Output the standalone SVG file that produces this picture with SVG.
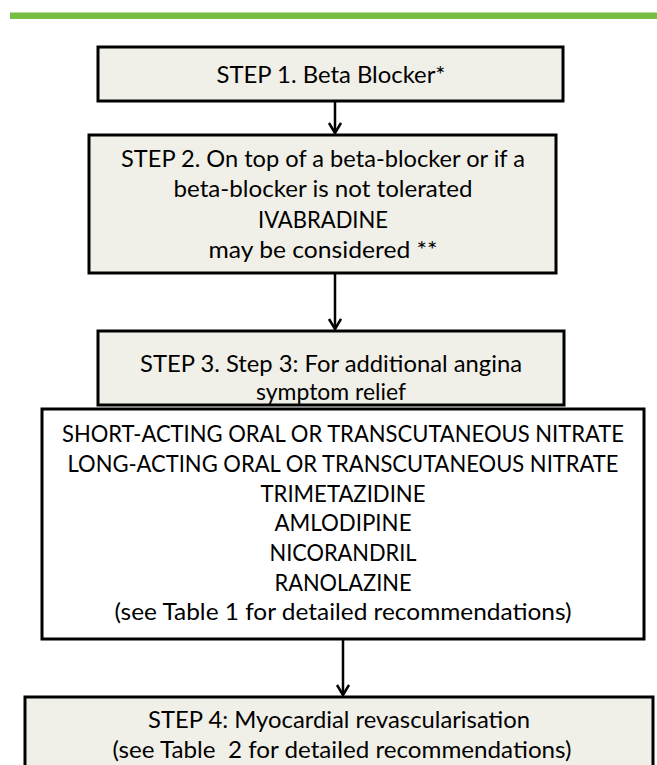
<svg xmlns="http://www.w3.org/2000/svg" width="657" height="765" viewBox="0 0 657 765">
<style>
.box{fill:#F1F0E8;stroke:#000;stroke-width:3}
.wbox{fill:#FFFFFF;stroke:#000;stroke-width:3}
.t{font-family:Lato,"Liberation Sans",sans-serif;font-size:23.5px;fill:#000;text-anchor:middle}
.c{stroke:#000;stroke-width:2.5;fill:none}
</style>
<defs>
<marker id="arr" markerUnits="userSpaceOnUse" markerWidth="16" markerHeight="16" refX="11" refY="6.5" orient="auto">
<path d="M1,0.5 L11,6.5 L1,12.5" fill="none" stroke="#000" stroke-width="2.5"/>
</marker>
</defs>
<rect x="10" y="12.5" width="647" height="6.5" fill="#78BE45"/>
<g id="step1">
<rect class="box" x="98" y="47" width="465" height="54"/>
<text class="t" x="331" y="82.5" textLength="229" lengthAdjust="spacingAndGlyphs">STEP 1. Beta Blocker*</text>
</g>
<g id="step2">
<rect class="box" x="89" y="135" width="467" height="138"/>
<text class="t" x="323" y="167" textLength="404" lengthAdjust="spacingAndGlyphs">STEP 2. On top of a beta-blocker or if a</text>
<text class="t" x="323" y="197" textLength="299" lengthAdjust="spacingAndGlyphs">beta-blocker is not tolerated</text>
<text class="t" x="323" y="228" textLength="130" lengthAdjust="spacingAndGlyphs">IVABRADINE</text>
<text class="t" x="323" y="258" textLength="229" lengthAdjust="spacingAndGlyphs">may be considered **</text>
</g>
<g id="step3">
<rect class="box" x="98" y="331" width="466" height="74"/>
<text class="t" x="331" y="372" textLength="382" lengthAdjust="spacingAndGlyphs">STEP 3. Step 3: For additional angina</text>
<text class="t" x="331" y="400" textLength="150" lengthAdjust="spacingAndGlyphs">symptom relief</text>
</g>
<g id="drugs">
<rect class="wbox" x="42" y="409" width="602" height="230"/>
<text class="t" x="343" y="442" textLength="562" lengthAdjust="spacingAndGlyphs">SHORT-ACTING ORAL OR TRANSCUTANEOUS NITRATE</text>
<text class="t" x="343" y="472" textLength="551" lengthAdjust="spacingAndGlyphs">LONG-ACTING ORAL OR TRANSCUTANEOUS NITRATE</text>
<text class="t" x="343" y="501.5" textLength="165" lengthAdjust="spacingAndGlyphs">TRIMETAZIDINE</text>
<text class="t" x="343" y="531" textLength="137" lengthAdjust="spacingAndGlyphs">AMLODIPINE</text>
<text class="t" x="343" y="561" textLength="147" lengthAdjust="spacingAndGlyphs">NICORANDRIL</text>
<text class="t" x="343" y="590.5" textLength="137" lengthAdjust="spacingAndGlyphs">RANOLAZINE</text>
<text class="t" x="343" y="620" textLength="457" lengthAdjust="spacingAndGlyphs">(see Table 1 for detailed recommendations)</text>
</g>
<g id="step4">
<rect class="box" x="25" y="697" width="628" height="90"/>
<text class="t" x="339" y="728" textLength="382" lengthAdjust="spacingAndGlyphs">STEP 4: Myocardial revascularisation</text>
<text class="t" x="342" y="758" textLength="459" lengthAdjust="spacingAndGlyphs" xml:space="preserve">(see Table  2 for detailed recommendations)</text>
</g>
<g id="connectors">
<line class="c" x1="335" y1="102" x2="335" y2="133" marker-end="url(#arr)"/>
<line class="c" x1="335" y1="274" x2="335" y2="329" marker-end="url(#arr)"/>
<line class="c" x1="343" y1="640" x2="343" y2="695" marker-end="url(#arr)"/>
</g>
</svg>
